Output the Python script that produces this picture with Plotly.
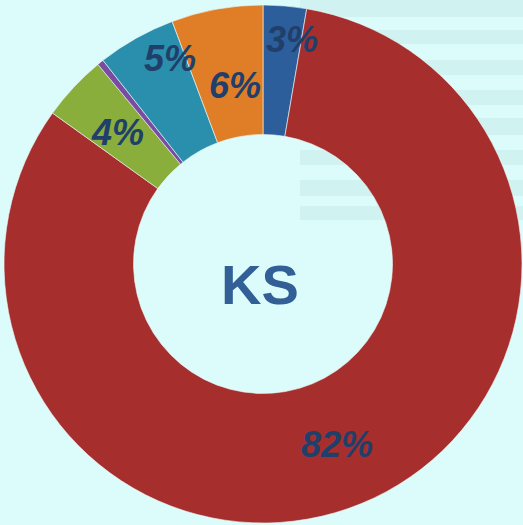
import numpy as np
import plotly.graph_objects as go

# slices, clockwise from 12 o'clock
segments = ['A', 'B', 'C', 'D', 'E', 'F']
shares = [2.7, 82.2, 4.1, 0.4, 4.9, 5.7]
labels = ['3%', '82%', '4%', '', '5%', '6%']
colors = ['#2D5E9C', '#A62F2D', '#8AAE3B', '#7A4C9F', '#2A8FAD', '#E07E28']
center_text = 'KS'

W, H = 523, 525
cx, cy, R = 263, 264, 259  # pixel centre (from top) and outer radius

# label placement (radius in px, angular nudge in degrees)
label_r = [226, 195, 196, 0, 226, 181]
label_nudge = [2.5, 0, -1, 0, 5, 1.4]

fig = go.Figure()

fig.add_trace(
    go.Pie(
        labels=segments,
        values=shares,
        hole=0.5,
        sort=False,
        direction='clockwise',
        rotation=0,
        textinfo='none',
        marker=dict(colors=colors, line=dict(color='rgba(235,250,250,0.6)', width=1)),
        domain=dict(x=[(cx - R) / W, (cx + R) / W],
                    y=[(H - cy - R) / H, (H - cy + R) / H]),
        showlegend=False,
        hoverinfo='label+percent',
    )
)

# slice labels, placed at each slice's mid-angle
total = sum(shares)
cum = np.cumsum([0] + shares)
annotations = []
for i, lab in enumerate(labels):
    if not lab:
        continue
    mid = (cum[i] + cum[i + 1]) / 2 / total * 360 + label_nudge[i]
    a = np.radians(mid)
    px = cx + label_r[i] * np.sin(a)
    py = cy - label_r[i] * np.cos(a)
    annotations.append(dict(
        x=px / W, y=1 - py / H, xref='paper', yref='paper',
        text=f'<b><i>{lab}</i></b>', showarrow=False,
        font=dict(family='Liberation Sans, Arial', size=36, color='#213F6B'),
        xanchor='center', yanchor='middle'
    ))

annotations.append(dict(
    x=260 / W, y=1 - 284 / H, xref='paper', yref='paper',
    text=f'<b>{center_text}</b>', showarrow=False,
    font=dict(family='Liberation Sans, Arial', size=56, color='#325F96'),
    xanchor='center', yanchor='middle'
))

# faint background stripes on the right
stripe_bands = [(0, 17), (30, 44), (60, 75), (90, 105), (118, 135), (150, 165), (180, 196), (206, 220)]
shapes = []
for y0, y1 in stripe_bands:
    shapes.append(dict(
        type='rect', xref='paper', yref='paper', layer='below',
        x0=300 / W, x1=1, y0=1 - y1 / H, y1=1 - y0 / H,
        fillcolor='rgba(170,215,212,0.25)', line=dict(width=0)
    ))

fig.update_layout(
    width=W, height=H,
    margin=dict(l=0, r=0, t=0, b=0),
    paper_bgcolor='#DCFBFB',
    plot_bgcolor='#DCFBFB',
    annotations=annotations,
    shapes=shapes,
)

fig.write_html("out.html", config={'displayModeBar': False},
               post_script="document.body.style.margin='0';")
